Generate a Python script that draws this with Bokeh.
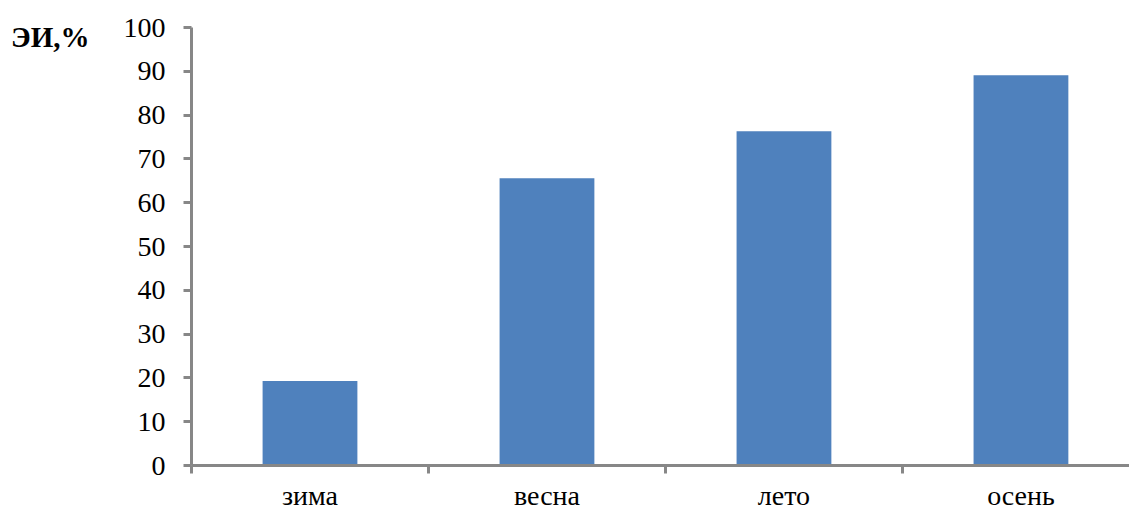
from bokeh.plotting import figure
from bokeh.models import FixedTicker, Range1d, ColumnDataSource, Div
from bokeh.layouts import row
from bokeh.embed import file_html
from bokeh.resources import INLINE

seasons = ["зима", "весна", "лето", "осень"]
values = [19.3, 65.6, 76.3, 89.1]
y_ticks = list(range(0, 101, 10))
y_title = "ЭИ,%"

FONT = "Liberation Serif"
AXIS_COLOR = "#878787"
BAR_COLOR = "#4F81BD"

centers = [i + 0.5 for i in range(len(seasons))]
src = ColumnDataSource(dict(x=centers, top=values))

p = figure(width=1030, height=513, output_backend="svg", toolbar_location=None,
           x_range=Range1d(0, 3.958), y_range=Range1d(0, 100),
           min_border_left=92, min_border_right=0, min_border_top=27,
           min_border_bottom=46)
p.outline_line_color = None
p.grid.visible = False
p.background_fill_color = "white"

p.vbar(x="x", top="top", width=0.4, source=src, fill_color=BAR_COLOR,
       line_color=None)

# x axis
xt = FixedTicker(ticks=centers, minor_ticks=list(range(len(seasons) + 1)))
p.xaxis.ticker = xt
p.xaxis.major_label_overrides = {c: s for c, s in zip(centers, seasons)}
p.xaxis.major_tick_out = 0
p.xaxis.major_tick_in = 0
p.xaxis.minor_tick_out = 8
p.xaxis.minor_tick_in = 0
p.xaxis.minor_tick_line_color = AXIS_COLOR
p.xaxis.minor_tick_line_width = 3
p.xaxis.axis_line_color = AXIS_COLOR
p.xaxis.axis_line_width = 3
p.xaxis.major_label_text_font = FONT
p.xaxis.major_label_text_font_size = "28px"
p.xaxis.major_label_text_color = "black"
p.xaxis.major_label_standoff = 6

# y axis
p.yaxis.ticker = FixedTicker(ticks=y_ticks)
p.yaxis.major_tick_out = 8
p.yaxis.major_tick_in = 0
p.yaxis.minor_tick_line_color = None
p.yaxis.major_tick_line_color = AXIS_COLOR
p.yaxis.major_tick_line_width = 3
p.yaxis.axis_line_color = AXIS_COLOR
p.yaxis.axis_line_width = 3
p.yaxis.major_label_text_font = FONT
p.yaxis.major_label_text_font_size = "28px"
p.yaxis.major_label_text_color = "black"
p.yaxis.major_label_standoff = 18

title = Div(text=('<div style="padding:16px 0 0 6px; line-height:32px; '
                  'font-family:\'Liberation Serif\'; font-size:29px; '
                  'font-weight:bold; color:black;">' + y_title + '</div>'),
            width=89, height=513)

layout = row(title, p, spacing=0)

open("out.html", "w").write(file_html(layout, INLINE))
